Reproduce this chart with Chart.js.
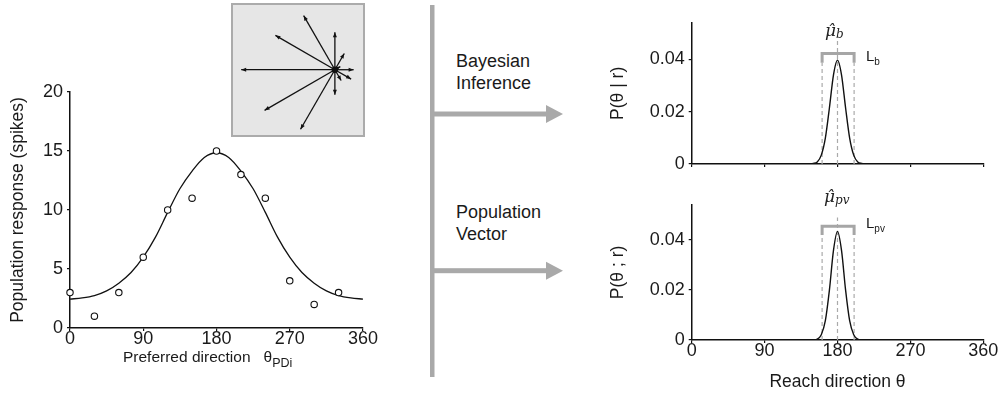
<!DOCTYPE html>
<html>
<head>
<meta charset="utf-8">
<script src="https://cdn.jsdelivr.net/npm/chart.js@4.4.0/dist/chart.umd.min.js"></script>
<style>
  body { margin: 0; background: #fff; }
  #wrap { position: relative; width: 1000px; height: 395px; overflow: hidden;
          font-family: "Liberation Sans", Arial, sans-serif; color: #1a1a1a; }
  canvas, .txt, .math, svg, .box { position: absolute; }
  .txt { white-space: nowrap; font-size: 18px; line-height: 22px; }
  .math { white-space: nowrap; font-family: "DejaVu Serif", serif; font-style: italic; font-size: 17px; line-height: 17px; color: #222; }
  .box { left: 231px; top: 3px; width: 134px; height: 134px; box-sizing: border-box;
         background: #e6e6e6; border: 2.5px solid #ababab; }
</style>
</head>
<body>
<div id="wrap">
  <svg width="1000" height="395">
    <rect x="430" y="5" width="4.5" height="372" fill="#a9a9a9"/>
    <rect x="432" y="111.5" width="115" height="5" fill="#a9a9a9"/>
    <polygon points="546,105 563,114 546,123" fill="#a9a9a9"/>
    <rect x="432" y="268.2" width="115" height="5" fill="#a9a9a9"/>
    <polygon points="546,261.7 563,270.7 546,279.7" fill="#a9a9a9"/>
  </svg>
  <div class="box"></div>
  <canvas id="tuning" width="400" height="395" style="left:0;top:0"></canvas>
  <canvas id="inset" width="129" height="129" style="left:233.5px;top:5.5px"></canvas>
  <canvas id="bayes" width="410" height="195" style="left:590px;top:0"></canvas>
  <canvas id="popvec" width="410" height="205" style="left:590px;top:190px"></canvas>

  <div class="txt" style="left:456px;top:50px">Bayesian<br>Inference</div>
  <div class="txt" style="left:456px;top:201px">Population<br>Vector</div>
  <div class="txt" style="left:123px;top:346px;font-size:15.5px">Preferred direction<span style="margin-left:13px">θ</span><span style="font-size:12.5px;position:relative;top:5px">PDi</span></div>

  <div class="math" style="left:825px;top:22px">μ̂<span style="font-size:12px;position:relative;top:2px">b</span></div>
  <div class="math" style="left:824px;top:188px">μ̂<span style="font-size:12px;position:relative;top:2px">pv</span></div>
  <div class="txt" style="left:866px;top:45px;font-size:15px">L<span style="font-size:10px;position:relative;top:4px">b</span></div>
  <div class="txt" style="left:866px;top:212px;font-size:15px">L<span style="font-size:10px;position:relative;top:4px">pv</span></div>
</div>

<script>
// tuning curve
const directions = [0, 30, 60, 90, 120, 150, 180, 210, 240, 270, 300, 330];
const spikes = [3, 1, 3, 6, 10, 11, 15, 13, 11, 4, 2, 3];
const fitDirections = [0, 15, 30, 45, 60, 75, 90, 105, 120, 135, 150, 165, 180,
                       195, 210, 225, 240, 255, 270, 285, 300, 315, 330, 345, 360];
const fitSpikes = [2.45, 2.55, 2.75, 3.15, 3.8, 4.7, 6.0, 7.7, 9.8, 11.8, 13.3, 14.45, 14.85,
                   14.45, 13.3, 11.8, 9.8, 7.7, 6.0, 4.7, 3.8, 3.15, 2.75, 2.55, 2.45];

// decoded distributions over reach direction
const reachAngles = [0, 140, 145, 150, 155, 160, 165, 170, 175, 180, 185, 190, 195, 200, 205, 210, 215, 220, 360];
const bayesProb = [0, 0, 0, 0.0002, 0.0008, 0.0034, 0.0099, 0.0214, 0.034, 0.0397, 0.034, 0.0214, 0.0099, 0.0034, 0.0008, 0.0002, 0, 0, 0];
const pvProb = [0, 0, 0, 0.0001, 0.0004, 0.0021, 0.0077, 0.0199, 0.0357, 0.0434, 0.0357, 0.0199, 0.0077, 0.0021, 0.0004, 0.0001, 0, 0, 0];

// estimates and intervals (degrees)
const muB = 180, intervalB = [161, 200.5];
const muPV = 180, intervalPV = [161, 200.5];

// tick labels
const dirTicks = [0, 90, 180, 270, 360];
const spikeTicks = [0, 5, 10, 15, 20];
const probTicks = [0, 0.02, 0.04];

Chart.defaults.font.family = '"Liberation Sans", Arial, sans-serif';
Chart.defaults.font.size = 18;
Chart.defaults.color = '#1a1a1a';

const toPts = (xs, ys) => xs.map((v, i) => ({x: v, y: ys[i]}));
const setTicks = vals => scale => { scale.ticks = vals.map(v => ({value: v})); };

const axisStyle = {
  grid: {drawOnChartArea: false, color: '#111', tickLength: 3, lineWidth: 1.2},
  border: {color: '#111', width: 1.5}
};

// left: population response vs preferred direction
new Chart(document.getElementById('tuning'), {
  type: 'scatter',
  data: {
    datasets: [
      {type: 'line', data: toPts(fitDirections, fitSpikes), borderColor: '#111', borderWidth: 1.3,
       pointRadius: 0, cubicInterpolationMode: 'monotone', fill: false, order: 2},
      {data: toPts(directions, spikes), pointRadius: 3.2, pointBackgroundColor: '#fff',
       pointBorderColor: '#111', pointBorderWidth: 1.1, clip: false, order: 1}
    ]
  },
  options: {
    responsive: false, animation: false, events: [],
    layout: {padding: {top: 92, right: 37, left: 0, bottom: 0}},
    plugins: {legend: {display: false}, tooltip: {enabled: false}},
    scales: {
      x: {type: 'linear', min: 0, max: 360, ...axisStyle,
          afterBuildTicks: setTicks(dirTicks), afterFit: s => { s.height = 67; },
          ticks: {padding: -3, maxRotation: 0, autoSkip: false}},
      y: {min: 0, max: 20, ...axisStyle,
          afterBuildTicks: setTicks(spikeTicks), afterFit: s => { s.width = 70; },
          ticks: {padding: 4},
          title: {display: true, text: 'Population response (spikes)', font: {size: 17.5}, padding: {top: 8, bottom: 0}}}
    }
  }
});

// inset: population vector arrows (length = response, angle = preferred direction)
const arrowPlugin = {
  id: 'arrows',
  afterDatasetsDraw(chart) {
    const {ctx, scales: {x, y}} = chart;
    const ox = x.getPixelForValue(0), oy = y.getPixelForValue(0);
    ctx.save();
    ctx.strokeStyle = '#111';
    ctx.fillStyle = '#111';
    ctx.lineWidth = 1.3;
    chart.data.datasets[0].data.forEach(p => {
      const tx = x.getPixelForValue(p.x), ty = y.getPixelForValue(p.y);
      const a = Math.atan2(ty - oy, tx - ox);
      ctx.beginPath();
      ctx.moveTo(ox, oy);
      ctx.lineTo(tx, ty);
      ctx.stroke();
      ctx.beginPath();
      ctx.moveTo(tx, ty);
      ctx.lineTo(tx - 5 * Math.cos(a) + 2 * Math.sin(a), ty - 5 * Math.sin(a) - 2 * Math.cos(a));
      ctx.lineTo(tx - 5 * Math.cos(a) - 2 * Math.sin(a), ty - 5 * Math.sin(a) + 2 * Math.cos(a));
      ctx.fill();
    });
    ctx.beginPath();
    ctx.arc(ox, oy, 3.2, 0, 2 * Math.PI);
    ctx.fill();
    ctx.restore();
  }
};

new Chart(document.getElementById('inset'), {
  type: 'scatter',
  data: {
    datasets: [{
      data: directions.map((d, i) => ({
        x: spikes[i] * Math.cos(d * Math.PI / 180),
        y: spikes[i] * Math.sin(d * Math.PI / 180)
      })),
      pointRadius: 0
    }]
  },
  options: {
    responsive: false, animation: false, events: [],
    layout: {padding: 0},
    plugins: {legend: {display: false}, tooltip: {enabled: false}},
    scales: {
      x: {display: false, min: -16.15, max: 4.5},
      y: {display: false, min: -10.45, max: 10.2}
    }
  },
  plugins: [arrowPlugin]
});

// dashed estimate lines and interval bracket
const intervalPlugin = {
  id: 'interval',
  beforeDatasetsDraw(chart, args, opts) {
    const {ctx, scales: {x, y}} = chart;
    const y0 = y.getPixelForValue(0);
    const xl = x.getPixelForValue(opts.lo), xh = x.getPixelForValue(opts.hi), xm = x.getPixelForValue(opts.mu);
    const yb = y.getPixelForValue(opts.bar), yl = y.getPixelForValue(opts.leg), yt = y.getPixelForValue(opts.top);
    ctx.save();
    ctx.strokeStyle = '#aaa';
    ctx.lineWidth = 1.2;
    ctx.setLineDash([4, 3]);
    [[xl, yl], [xh, yl], [xm, yt]].forEach(([px, py]) => {
      ctx.beginPath();
      ctx.moveTo(px, y0);
      ctx.lineTo(px, py);
      ctx.stroke();
    });
    ctx.setLineDash([]);
    ctx.strokeStyle = '#a6a6a6';
    ctx.lineWidth = 3;
    ctx.beginPath();
    ctx.moveTo(xl, yl);
    ctx.lineTo(xl, yb);
    ctx.lineTo(xh, yb);
    ctx.lineTo(xh, yl);
    ctx.stroke();
    ctx.restore();
  }
};

function densityChart(id, probs, mu, interval, bracket, yTitle, bottomAxis) {
  return new Chart(document.getElementById(id), {
    type: 'line',
    data: {
      datasets: [{data: toPts(reachAngles, probs), borderColor: '#111', borderWidth: 1.4,
                  pointRadius: 0, cubicInterpolationMode: 'monotone', fill: false}]
    },
    options: {
      responsive: false, animation: false, events: [],
      layout: {padding: {top: bottomAxis ? 8.3 : 22.7, right: 16.7, left: 0, bottom: 0}},
      plugins: {
        legend: {display: false}, tooltip: {enabled: false},
        interval: {mu: mu, lo: interval[0], hi: interval[1], bar: bracket[0], leg: bracket[1], top: bracket[2]}
      },
      scales: {
        x: {type: 'linear', min: 0, max: 360, ...axisStyle,
            afterBuildTicks: setTicks(dirTicks),
            afterFit: s => { s.height = bottomAxis ? 55 : 31; },
            ticks: {display: bottomAxis, padding: -3, maxRotation: 0, autoSkip: false},
            title: {display: bottomAxis, text: 'Reach direction θ', font: {size: 17.5}, padding: {top: 0, bottom: 2}}},
        y: {min: 0, max: 0.054, ...axisStyle,
            afterBuildTicks: setTicks(probTicks), afterFit: s => { s.width = 101.7; },
            ticks: {padding: 4, callback: v => v === 0 ? '0' : v.toFixed(2)},
            title: {display: true, text: yTitle, font: {size: 17.5}, padding: {top: 18, bottom: 0}}}
      }
    },
    plugins: [intervalPlugin]
  });
}

densityChart('bayes', bayesProb, muB, intervalB, [0.0422, 0.0387, 0.0477], 'P(θ | r)', false);
densityChart('popvec', pvProb, muPV, intervalPV, [0.0454, 0.0419, 0.0489], 'P(θ ; r)', true);
</script>
</body>
</html>
